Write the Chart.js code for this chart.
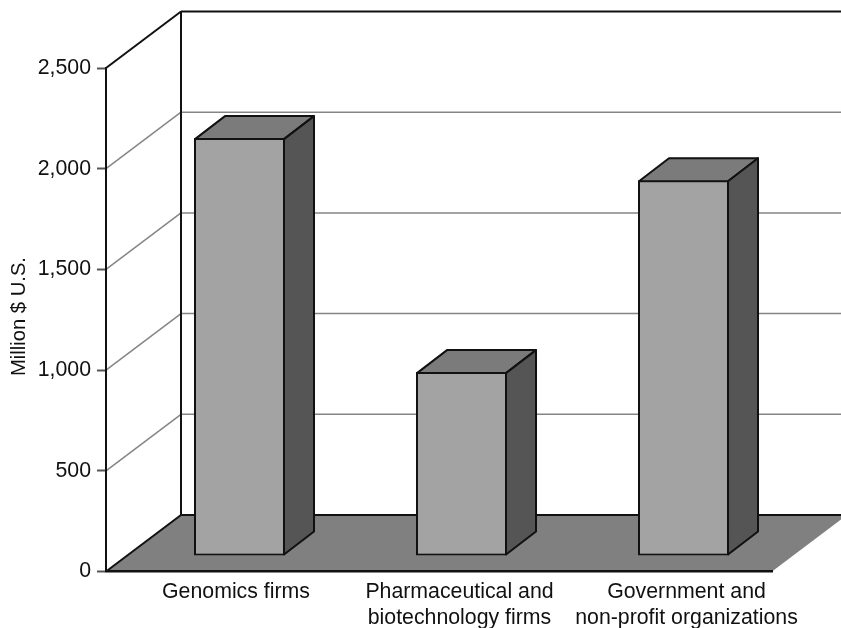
<!DOCTYPE html>
<html>
<head>
<meta charset="utf-8">
<style>
  html, body { margin: 0; padding: 0; background: #fff; }
  canvas { display: block; }
</style>
<script src="https://cdn.jsdelivr.net/npm/chart.js@4/dist/chart.umd.min.js"></script>
</head>
<body>
<canvas id="chart" width="841" height="628"></canvas>
<script>
const categories = [
  "Genomics firms",
  ["Pharmaceutical and", "biotechnology firms"],
  ["Government and", "non-profit organizations"],
];
const spending = [2075, 913, 1866];
const yTicks = [0, 500, 1000, 1500, 2000, 2500];
const yAxisTitle = "Million $ U.S.";

const wallDepth = { x: 75, y: -56.5 };
const barDepth = { x: 30, y: -23 };
const barShift = { x: 22.5, y: -15.5 };
const labelNudge = [0, 1.5, 6.5];

function poly(ctx, pts, fill, stroke, lineWidth) {
  ctx.beginPath();
  pts.forEach((p, i) => (i ? ctx.lineTo(p[0], p[1]) : ctx.moveTo(p[0], p[1])));
  ctx.closePath();
  if (fill) {
    ctx.fillStyle = fill;
    ctx.fill();
  }
  if (stroke) {
    ctx.strokeStyle = stroke;
    ctx.lineWidth = lineWidth;
    ctx.lineJoin = "round";
    ctx.stroke();
  }
}

function line(ctx, x1, y1, x2, y2, color, width) {
  ctx.beginPath();
  ctx.moveTo(x1, y1);
  ctx.lineTo(x2, y2);
  ctx.strokeStyle = color;
  ctx.lineWidth = width;
  ctx.stroke();
}

// walls and floor go under the axes, bars get pushed back into the box
const box3d = {
  id: "box3d",
  afterLayout(chart) {
    chart.scales.x.getLabelItems().forEach((item, i) => {
      item.options.translation[0] += labelNudge[i];
    });
  },
  beforeDraw(chart) {
    const { ctx, chartArea: a, scales } = chart;
    const backX = a.left + wallDepth.x;
    ctx.save();
    yTicks.forEach((v) => {
      const y = scales.y.getPixelForValue(v);
      if (v === 0) return;
      const top = v === yTicks[yTicks.length - 1];
      const color = top ? "#111" : "#858585";
      const w = top ? 2 : 1.5;
      line(ctx, a.left, y, backX, y + wallDepth.y, color, w);
      line(ctx, backX, y + wallDepth.y, chart.width, y + wallDepth.y, color, w);
    });
    const y0 = scales.y.getPixelForValue(0);
    const yMax = scales.y.getPixelForValue(2500);
    line(ctx, backX, yMax + wallDepth.y, backX, y0 + wallDepth.y, "#111", 2);
    poly(
      ctx,
      [
        [a.left, y0],
        [a.right, y0],
        [a.right + wallDepth.x, y0 + wallDepth.y],
        [backX, y0 + wallDepth.y],
      ],
      "#808080"
    );
    line(ctx, a.left, y0, backX, y0 + wallDepth.y, "#111", 2);
    line(ctx, backX, y0 + wallDepth.y, chart.width, y0 + wallDepth.y, "#111", 2);
    ctx.restore();
  },
  beforeDatasetsDraw(chart) {
    chart.ctx.save();
    chart.ctx.translate(barShift.x, barShift.y);
  },
  afterDatasetsDraw(chart) {
    const ctx = chart.ctx;
    const dx = barDepth.x;
    const dy = barDepth.y;
    // bar borders sit inside the rectangle, so the faces start 1px in
    chart.getDatasetMeta(0).data.forEach((bar) => {
      const l = bar.x - bar.width / 2 + 1;
      const r = bar.x + bar.width / 2 - 1;
      const t = bar.y + 1;
      const b = bar.base - 1;
      poly(ctx, [[l, t], [r, t], [r + dx, t + dy], [l + dx, t + dy]], "#7b7b7b", "#111", 2);
      poly(ctx, [[r, t], [r + dx, t + dy], [r + dx, b + dy], [r, b]], "#555555", "#111", 2);
    });
    ctx.restore();
  },
  afterDraw(chart) {
    const ctx = chart.ctx;
    ctx.save();
    ctx.translate(25, 316.5);
    ctx.rotate(-Math.PI / 2);
    ctx.font = "20.2px 'Liberation Sans'";
    ctx.fillStyle = "#111";
    ctx.textAlign = "center";
    ctx.fillText(yAxisTitle, 0, 0);
    ctx.restore();
  },
};

new Chart(document.getElementById("chart"), {
  type: "bar",
  data: {
    labels: categories,
    datasets: [
      {
        data: spending,
        backgroundColor: "#a3a3a3",
        borderColor: "#111",
        borderWidth: 2,
        borderSkipped: false,
        barPercentage: 0.41,
        categoryPercentage: 1,
        clip: false,
      },
    ],
  },
  options: {
    responsive: false,
    animation: false,
    locale: "en-US",
    layout: { padding: { top: 68, right: 69, bottom: 0, left: 0 } },
    plugins: { legend: { display: false }, tooltip: { enabled: false } },
    scales: {
      x: {
        grid: { display: true, drawOnChartArea: false, drawTicks: false },
        border: { color: "#111", width: 2.5 },
        afterFit: (s) => { s.height = 56.5; },
        ticks: {
          color: "#111",
          font: { family: "Liberation Sans", size: 21.3, lineHeight: 1.22 },
          labelOffset: 19,
          maxRotation: 0,
          autoSkip: false,
          padding: 8,
        },
      },
      y: {
        min: 0,
        max: 2500,
        afterFit: (s) => { s.width = 106; },
        afterBuildTicks: (s) => { s.ticks = yTicks.map((value) => ({ value })); },
        grid: { drawOnChartArea: false, tickLength: 9, tickColor: "#555", tickWidth: 2 },
        border: { color: "#111", width: 2 },
        ticks: {
          color: "#111",
          font: { family: "Liberation Sans", size: 21.3 },
          padding: 6,
        },
      },
    },
  },
  plugins: [box3d],
});
</script>
</body>
</html>
